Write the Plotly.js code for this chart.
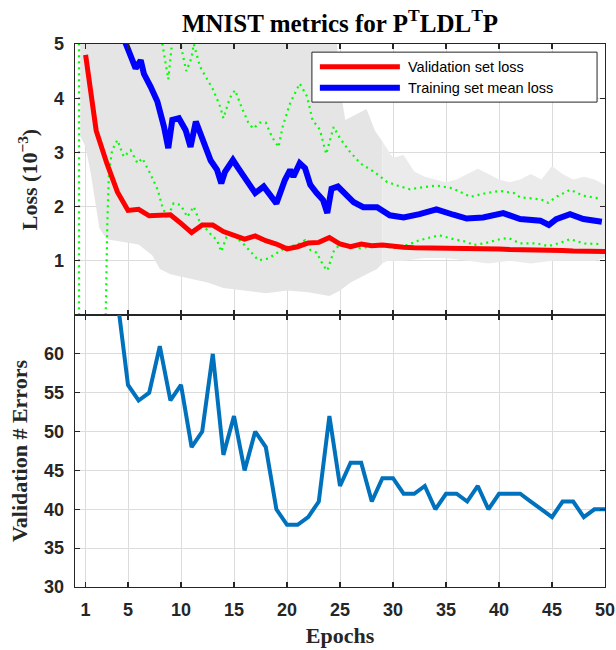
<!DOCTYPE html>
<html>
<head>
<meta charset="utf-8">
<script src="https://cdn.plot.ly/plotly-3.0.1.min.js"></script>
<style>html,body{margin:0;padding:0;background:#fff}#chart{width:616px;height:650px}</style>
</head>
<body>
<div id="chart"></div>
<script>
// ---------- data ----------
const epochs = [1,2,3,4,5,6,7,8,9,10,11,12,13,14,15,16,17,18,19,20,21,22,23,24,25,26,27,28,29,30,31,32,33,34,35,36,37,38,39,40,41,42,43,44,45,46,47,48,49,50];

const valLoss = [4.8,3.4,2.8,2.27,1.93,1.95,1.83,1.83,1.85,1.69,
                 1.52,1.66,1.66,1.54,1.48,1.40,1.46,1.37,1.31,1.22,
                 1.26,1.33,1.34,1.43,1.31,1.26,1.31,1.28,1.29,1.26,
                 1.25,1.24,1.24,1.23,1.23,1.22,1.22,1.22,1.22,1.22,
                 1.21,1.21,1.19,1.19,1.19,1.19,1.18,1.18,1.17,1.17];

const valErrors = [120,90,75,67,56,54,55,61,54,56,
                   48,50,60,47,52,45,50,48,40,38,
                   38,39,41,52,43,46,46,41,44,44,
                   42,42,43,40,42,42,41,43,40,42,
                   42,42,41,40,39,41,41,39,40,40];

const trainX = [4.5,5.1,5.4,5.72,6.2,6.5,7.14,7.77,8.4,8.8,9.18,9.8,10.44,10.9,11.4,12.0,12.8,13.4,13.8,14.15,14.9,15.4,16.2,17.0,17.8,18.2,19.0,19.8,20.3,20.6,21.2,21.7,22.2,22.8,23.4,23.8,24.2,24.8,25.6,26.3,27.2,28.5,29.7,31.0,32.5,34.1,35.7,36.95,38.5,40.4,42.0,43.9,44.7,45.4,46.7,47.96,49.7];
const trainY = [5.15,4.83,4.75,4.55,4.7,4.45,4.21,3.94,3.47,3.08,3.6,3.63,3.41,3.1,3.57,3.23,2.85,2.68,2.43,2.64,2.86,2.71,2.49,2.25,2.37,2.25,2.06,2.49,2.68,2.55,2.80,2.71,2.4,2.25,2.12,1.88,2.33,2.37,2.2,2.08,1.99,1.99,1.84,1.80,1.86,1.95,1.85,1.78,1.80,1.88,1.77,1.74,1.66,1.77,1.86,1.77,1.72];

const upperX = [0.38,0.38,7.9,8.2,8.8,9.2,9.9,10.5,11.0,11.2,11.8,12.6,13.05,13.7,14.0,14.6,15.1,15.7,16.35,16.8,17.45,18.0,18.6,19.2,19.6,20.3,21.2,21.9,22.4,23.1,23.7,24.4,25.0,25.9,26.9,28.3,29.4,30.4,31.6,32.9,34.1,35.6,37.3,38.8,40.1,41.4,42.0,43.2,44.0,44.65,45.4,46.7,48.0,49.5];
const upperY = [-1,7,5.6,5.05,4.35,5.1,5.05,4.5,4.75,5.0,4.58,4.3,4.15,3.84,3.63,4.0,4.15,3.84,3.55,3.44,3.55,3.55,3.28,3.1,3.48,3.91,4.27,4.03,3.6,3.42,2.97,3.47,3.26,3.02,2.80,2.63,2.46,2.39,2.32,2.36,2.39,2.34,2.18,2.25,2.29,2.25,2.17,2.15,2.13,2.07,2.18,2.31,2.20,2.15];

const lowerX = [2.9,2.9,3.05,3.2,3.5,4.0,4.6,5.25,5.9,6.35,7.1,7.8,8.24,8.7,9.3,9.97,10.6,11.2,11.7,12.7,13.4,13.8,14.3,14.8,16.0,16.7,17.3,18.2,19.0,20.0,20.9,21.7,22.2,22.8,23.4,23.8,24.4,25.0,25.9,26.9,28.8,30.0,31.5,32.5,33.5,34.4,35.7,36.95,37.6,38.8,40.1,40.9,42.0,43.6,44.65,45.75,46.7,48.0,49.4];
const lowerY = [-1,0.04,1.7,2.62,3.04,3.23,2.92,3.04,2.80,2.89,2.61,2.31,2.0,1.78,2.06,2.03,1.81,2.0,1.75,1.51,1.38,1.17,1.44,1.51,1.29,1.14,1.01,1.04,1.14,1.26,1.29,1.38,1.2,1.15,0.92,0.82,1.17,1.31,1.28,1.23,1.30,1.23,1.30,1.38,1.43,1.47,1.40,1.35,1.29,1.33,1.40,1.42,1.32,1.32,1.27,1.33,1.40,1.32,1.31];

// raw per-iteration loss: dense early band and sparser late band (envelopes)
const rawEarlyTopX = [0.5,24.5,25.0,25.5,26.5,27.5,28.3,29.0];
const rawEarlyTopY = [5.6,5.6,4.2,3.6,3.7,3.8,3.4,3.2];
const rawEarlyBotX = [0.5,1.0,1.5,2.3,3.0,4.5,6.0,7.3,8.0,9.0,10.5,12.5,14.0,16.0,18.0,20.0,22.0,24.0,25.0,26.0,27.5,28.5,29.0];
const rawEarlyBotY = [3.3,3.1,2.6,1.6,1.4,1.35,1.3,1.1,0.85,0.75,0.68,0.6,0.5,0.45,0.4,0.45,0.42,0.35,0.45,0.6,0.75,0.85,0.95];
const rawLateTopX = [29.0,30.0,31.0,32.0,33.0,34.0,35.0,36.0,37.0,38.0,39.0,40.0,41.0,42.0,43.0,44.0,45.0,46.0,47.0,48.0,49.0,50.0];
const rawLateTopY = [3.2,2.9,2.95,2.65,2.55,2.5,2.45,2.5,2.6,2.7,2.6,2.5,2.45,2.5,2.6,2.5,2.75,2.6,2.5,2.55,2.5,2.4];
const rawLateBotX = [29.0,29.5,31.0,33.0,35.0,37.0,39.0,41.0,43.0,45.0,47.0,49.0,50.0];
const rawLateBotY = [0.95,1.0,1.0,1.05,1.05,1.0,0.95,1.0,0.95,1.0,1.0,1.0,1.05];

const xTicks = [1,5,10,15,20,25,30,35,40,45,50];
const lossTicks = [1,2,3,4,5];
const errTicks = [30,35,40,45,50,55,60];
const legendNames = ["Validation set loss","Training set mean loss"];

// ---------- traces ----------
function band(topX, topY, botX, botY, color) {
  return {x: topX.concat(botX.slice().reverse()), y: topY.concat(botY.slice().reverse()),
          xaxis:'x', yaxis:'y', type:'scatter', mode:'lines', fill:'toself',
          fillcolor:color, line:{width:0, color:color}, showlegend:false, hoverinfo:'skip'};
}

const traces = [
  band(rawEarlyTopX, rawEarlyTopY, rawEarlyBotX, rawEarlyBotY, '#e5e5e5'),
  band(rawLateTopX, rawLateTopY, rawLateBotX, rawLateBotY, '#ebebeb'),
  {x: upperX, y: upperY, xaxis:'x', yaxis:'y', type:'scatter', mode:'lines',
   line:{color:'#00ff00', width:2.2, dash:'2px,4px'}, showlegend:false},
  {x: lowerX, y: lowerY, xaxis:'x', yaxis:'y', type:'scatter', mode:'lines',
   line:{color:'#00ff00', width:2.2, dash:'2px,4px'}, showlegend:false},
  {x: epochs, y: valLoss, xaxis:'x', yaxis:'y', type:'scatter', mode:'lines', name: legendNames[0],
   line:{color:'#ff0000', width:5}, showlegend:false},
  {x: trainX, y: trainY, xaxis:'x', yaxis:'y', type:'scatter', mode:'lines', name: legendNames[1],
   line:{color:'#0000ff', width:6}, showlegend:false},
  {x: epochs, y: valErrors, xaxis:'x2', yaxis:'y2', type:'scatter', mode:'lines',
   line:{color:'#0072bd', width:4}, showlegend:false}
];

// ---------- layout ----------
const axisCommon = {
  showline:true, linecolor:'#262626', linewidth:1.3, mirror:'ticks',
  ticks:'inside', ticklen:5, tickwidth:1.2, tickcolor:'#262626',
  showgrid:true, gridcolor:'#dcdcdc', gridwidth:1, zeroline:false,
  tickfont:{family:'Liberation Sans, Arial, sans-serif', size:18, weight:'bold', color:'#262626'}
};
const titleFont = {family:'Liberation Serif, Times New Roman, serif', size:22, weight:'bold', color:'#262626'};

// legend box geometry (paper units)
const L = {x0:0.447, x1:0.985, y0:0.893, y1:0.985, lx0:0.462, lx1:0.613, tx:0.6245, ya:0.958, yb:0.9195};

const layout = {
  width:616, height:650,
  margin:{l:75, r:11, t:44, b:63},
  paper_bgcolor:'#ffffff', plot_bgcolor:'#ffffff',
  showlegend:false,
  title:{text:'MNIST metrics for P<sup>T</sup>LDL<sup>T</sup>P', x:0.5, xref:'paper', xanchor:'center',
         y:0.965, yref:'container', yanchor:'middle',
         font:{family:'Liberation Serif, Times New Roman, serif', size:25, weight:'bold', color:'#000'}},
  xaxis: Object.assign({}, axisCommon, {domain:[0,1], anchor:'y', range:[0,50], tickvals:xTicks, showticklabels:false}),
  xaxis2: Object.assign({}, axisCommon, {domain:[0,1], anchor:'y2', matches:'x', range:[0,50], tickvals:xTicks,
          ticklabelstandoff:6, title:{text:'Epochs', font:titleFont, standoff:8}}),
  yaxis: Object.assign({}, axisCommon, {domain:[0.5009,1], anchor:'x', range:[0,5], tickvals:lossTicks,
          ticklabelstandoff:6, title:{text:'Loss (10<sup>−3</sup>)', font:titleFont, standoff:10}}),
  yaxis2: Object.assign({}, axisCommon, {domain:[0,0.5009], anchor:'x2', range:[30,65], tickvals:errTicks,
          ticklabelstandoff:6, title:{text:'Validation # Errors', font:titleFont, standoff:10}}),
  shapes:[
    {type:'rect', xref:'paper', yref:'paper', x0:L.x0, x1:L.x1, y0:L.y0, y1:L.y1,
     fillcolor:'#ffffff', line:{color:'#262626', width:1}},
    {type:'line', xref:'paper', yref:'paper', x0:L.lx0, x1:L.lx1, y0:L.ya, y1:L.ya, line:{color:'#ff0000', width:5}},
    {type:'line', xref:'paper', yref:'paper', x0:L.lx0, x1:L.lx1, y0:L.yb, y1:L.yb, line:{color:'#0000ff', width:6}}
  ],
  annotations:[
    {xref:'paper', yref:'paper', x:L.tx, y:L.ya, xanchor:'left', yanchor:'middle', showarrow:false, text:legendNames[0],
     font:{family:'Liberation Sans, Arial, sans-serif', size:14.5, color:'#000'}},
    {xref:'paper', yref:'paper', x:L.tx, y:L.yb, xanchor:'left', yanchor:'middle', showarrow:false, text:legendNames[1],
     font:{family:'Liberation Sans, Arial, sans-serif', size:14.5, color:'#000'}}
  ]
};

Plotly.newPlot('chart', traces, layout, {staticPlot:true, displayModeBar:false});
</script>
</body>
</html>
